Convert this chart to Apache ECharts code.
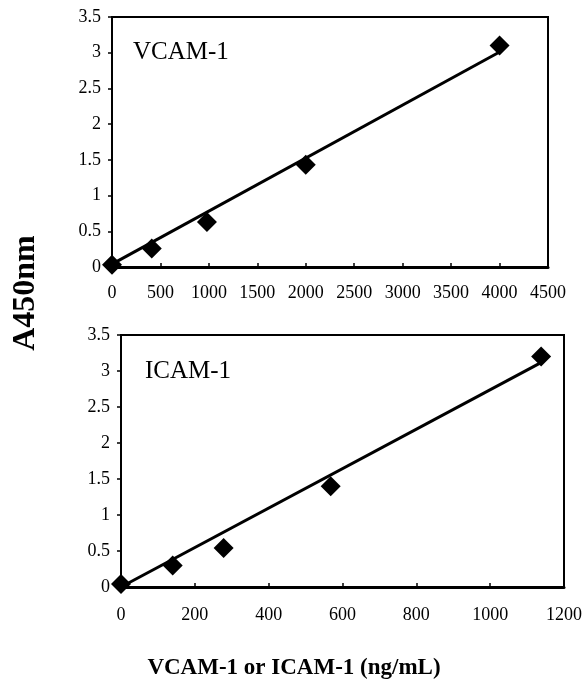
<!DOCTYPE html>
<html>
<head>
<meta charset="utf-8">
<script src="https://cdn.jsdelivr.net/npm/echarts@6/dist/echarts.min.js"></script>
<style>
  html, body { margin: 0; padding: 0; background: #fff; }
  #chart { width: 587px; height: 685px; }
</style>
</head>
<body>
<div id="chart"></div>
<script>
// VCAM-1 standard curve
const vcamConc = [0, 410, 980, 2000, 4000];
const vcamAbs = [0.03, 0.26, 0.63, 1.43, 3.1];
const vcamFitX = [0, 4000];
const vcamFitY = [0.04, 3.01];

// ICAM-1 standard curve
const icamConc = [0, 140, 278, 568, 1138];
const icamAbs = [0.04, 0.3, 0.54, 1.4, 3.2];
const icamFitX = [0, 1135];
const icamFitY = [0.0, 3.11];

const panelNames = ['VCAM-1', 'ICAM-1'];
const yTitle = 'A450nm';
const xTitle = 'VCAM-1 or ICAM-1 (ng/mL)';

const serif = '"Liberation Serif", "DejaVu Serif", serif';

function pairs(xs, ys) {
    return xs.map((x, i) => [x, ys[i]]);
}

function xAxisFor(gridIndex, max, interval, margin) {
    return {
        type: 'value', gridIndex: gridIndex, min: 0, max: max, interval: interval,
        axisLine: { show: true, onZero: false, lineStyle: { color: '#000', width: 3 } },
        axisTick: { show: true, inside: true, length: 4, lineStyle: { color: '#000', width: 1.5 } },
        axisLabel: {
            color: '#000', fontFamily: serif, fontSize: 18, margin: margin,
            formatter: v => String(v)
        },
        splitLine: { show: false }
    };
}

function yAxisFor(gridIndex) {
    return {
        type: 'value', gridIndex: gridIndex, min: 0, max: 3.5, interval: 0.5,
        axisLine: { show: true, lineStyle: { color: '#000', width: 2 } },
        axisTick: { show: true, length: 4, lineStyle: { color: '#000', width: 1.5 } },
        axisLabel: {
            color: '#000', fontFamily: serif, fontSize: 18, margin: 11,
            padding: [8, 0, 0, 0], formatter: v => String(v)
        },
        splitLine: { show: false }
    };
}

function scatterFor(index, xs, ys) {
    return {
        type: 'scatter', xAxisIndex: index, yAxisIndex: index,
        data: pairs(xs, ys), symbol: 'diamond', symbolSize: 20,
        itemStyle: { color: '#000', opacity: 1 }, z: 3
    };
}

function fitFor(index, xs, ys) {
    return {
        type: 'line', xAxisIndex: index, yAxisIndex: index,
        data: pairs(xs, ys), showSymbol: false, symbol: 'none',
        lineStyle: { color: '#000', width: 3 }, z: 2
    };
}

let chart = echarts.init(document.getElementById('chart'), null, { renderer: 'canvas' });
let option = {
    backgroundColor: '#fff',
    animation: false,
    grid: [
        { left: 112, right: 39, top: 17, height: 250, show: true, borderColor: '#000', borderWidth: 2 },
        { left: 121, right: 23, top: 335, height: 252, show: true, borderColor: '#000', borderWidth: 2 }
    ],
    xAxis: [xAxisFor(0, 4500, 500, 17), xAxisFor(1, 1200, 200, 19)],
    yAxis: [yAxisFor(0), yAxisFor(1)],
    series: [
        fitFor(0, vcamFitX, vcamFitY),
        scatterFor(0, vcamConc, vcamAbs),
        fitFor(1, icamFitX, icamFitY),
        scatterFor(1, icamConc, icamAbs)
    ],
    graphic: [
        { type: 'text', left: 133, top: 40,
          style: { text: panelNames[0], font: '25px ' + serif, fill: '#000' } },
        { type: 'text', left: 145, top: 359,
          style: { text: panelNames[1], font: '25px ' + serif, fill: '#000' } },
        { type: 'text', x: 26, y: 293, rotation: Math.PI / 2,
          style: { text: yTitle, font: 'bold 32px ' + serif, fill: '#000',
                   align: 'center', verticalAlign: 'middle' } },
        { type: 'text', x: 294, y: 668,
          style: { text: xTitle, font: 'bold 23px ' + serif, fill: '#000',
                   align: 'center', verticalAlign: 'middle' } }
    ]
};
chart.setOption(option);
</script>
</body>
</html>
